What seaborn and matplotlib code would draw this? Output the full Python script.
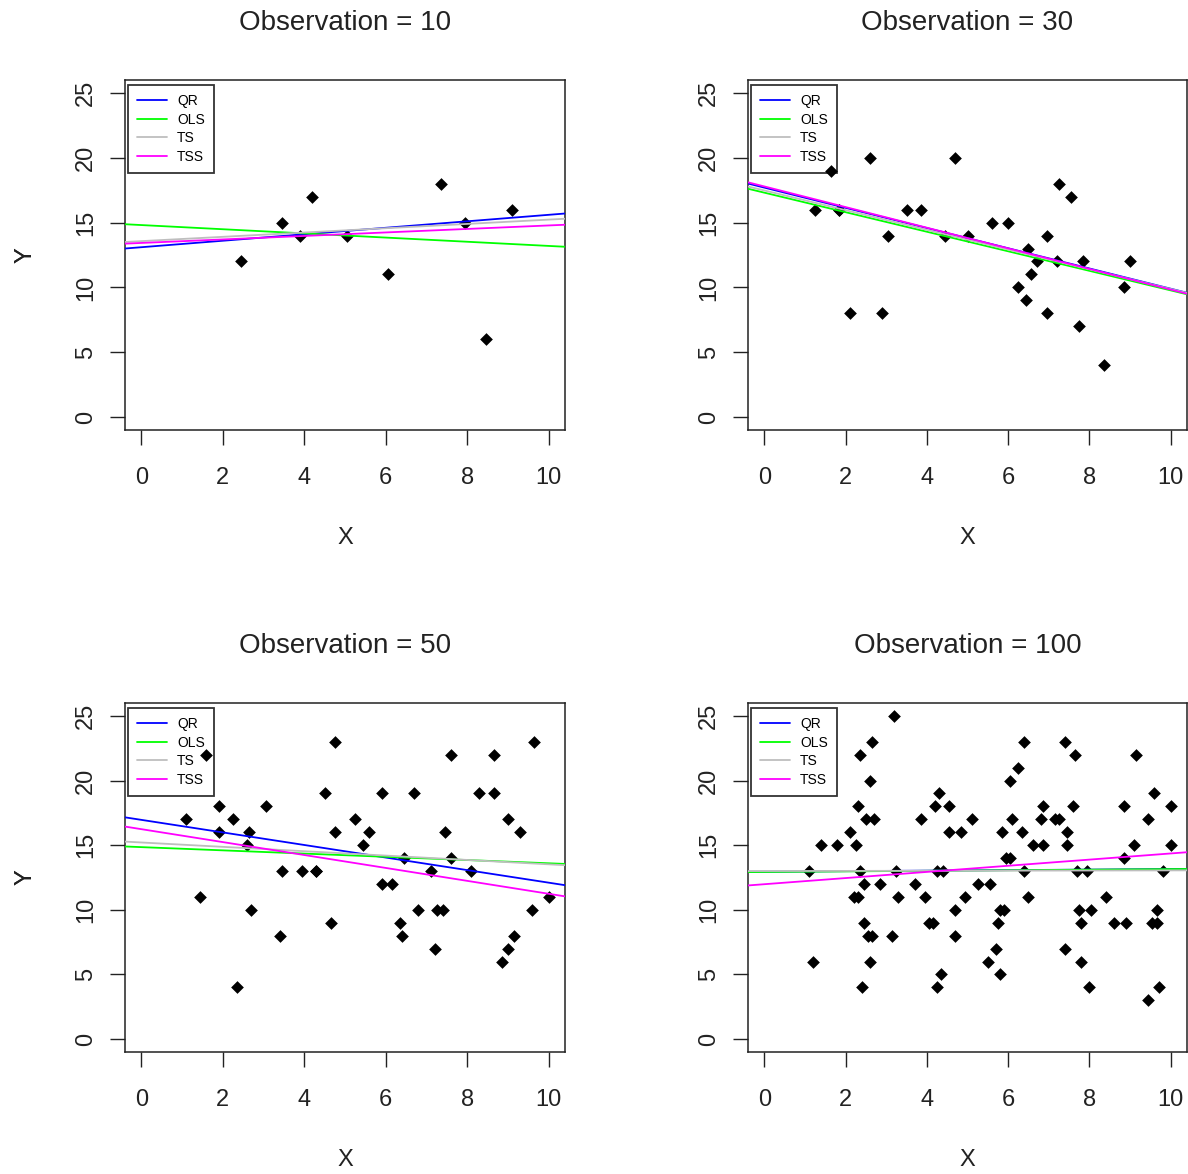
import matplotlib
matplotlib.use("Agg")
import matplotlib.pyplot as plt
import seaborn as sns

# observations per panel
n_obs = [10, 30, 50, 100]

# panel 1 (n = 10)
x10 = [2.45, 3.45, 3.9, 4.2, 5.05, 6.05, 7.35, 7.95, 8.45, 9.1]
y10 = [12, 15, 14, 17, 14, 11, 18, 15, 6, 16]

# panel 2 (n = 30)
x30 = [1.25, 1.65, 1.85, 1.85, 2.1, 2.6, 2.9, 3.05, 3.5, 3.85, 4.45, 4.7, 5.0, 5.6, 6.0,
       6.25, 6.45, 6.5, 6.55, 6.7, 6.95, 6.95, 7.2, 7.25, 7.55, 7.75, 7.85, 8.35, 8.85, 9.0]
y30 = [16, 19, 16, 16, 8, 20, 8, 14, 16, 16, 14, 20, 14, 15, 15,
       10, 9, 13, 11, 12, 14, 8, 12, 18, 17, 7, 12, 4, 10, 12]

# panel 3 (n = 50)
x50 = [1.1, 1.45, 1.6, 1.9, 1.9, 2.25, 2.35, 2.6, 2.65, 2.7, 3.05, 3.4, 3.45, 3.95, 4.3,
       4.5, 4.65, 4.75, 4.75, 5.25, 5.6, 5.45, 5.9, 5.9, 6.15, 6.45, 6.35, 6.4, 6.7, 6.8,
       7.1, 7.2, 7.25, 7.4, 7.45, 7.6, 7.6, 8.1, 8.3, 8.65, 8.65, 8.85, 9.0, 9.0, 9.15,
       9.3, 9.6, 9.65, 10.0, 4.3]
y50 = [17, 11, 22, 18, 16, 17, 4, 15, 16, 10, 18, 8, 13, 13, 13,
       19, 9, 23, 16, 17, 16, 15, 19, 12, 12, 14, 9, 8, 19, 10,
       13, 7, 10, 10, 16, 22, 14, 13, 19, 19, 22, 6, 17, 7, 8,
       16, 10, 23, 11, 13]

# panel 4 (n = 100)
x100 = [1.1, 1.2, 1.4, 1.8, 2.1, 2.25, 2.2, 2.3, 2.3, 2.35, 2.35, 2.4, 2.45, 2.45, 2.5,
        2.55, 2.65, 2.6, 2.6, 2.65, 2.7, 2.85, 3.15, 3.2, 3.25, 3.3, 3.7, 3.85, 3.95, 4.05,
        4.15, 4.2, 4.25, 4.3, 4.25, 4.4, 4.35, 4.55, 4.55, 4.7, 4.7, 4.85, 4.95, 5.1, 5.25,
        5.55, 5.5, 5.7, 5.75, 5.8, 5.9, 5.8, 5.85, 5.95, 6.05, 6.05, 6.1, 6.25, 6.35, 6.4,
        6.4, 6.5, 6.6, 6.8, 6.85, 6.85, 7.15, 7.25, 7.4, 7.4, 7.45, 7.45, 7.6, 7.65, 7.7,
        7.75, 7.8, 7.8, 7.95, 8.0, 8.05, 8.4, 8.6, 8.85, 8.85, 8.9, 9.1, 9.15, 9.45, 9.45,
        9.6, 9.55, 9.65, 9.65, 9.7, 9.8, 10.0, 10.0]
y100 = [13, 6, 15, 15, 16, 15, 11, 11, 18, 22, 13, 4, 12, 9, 17,
        8, 8, 6, 20, 23, 17, 12, 8, 25, 13, 11, 12, 17, 11, 9,
        9, 18, 4, 19, 13, 13, 5, 18, 16, 8, 10, 16, 11, 17, 12,
        12, 6, 7, 9, 10, 10, 5, 16, 14, 14, 20, 17, 21, 16, 23,
        13, 11, 15, 17, 15, 18, 17, 17, 23, 7, 16, 15, 18, 22, 13,
        10, 9, 6, 13, 4, 10, 11, 9, 18, 14, 9, 15, 22, 17, 3,
        19, 9, 9, 10, 4, 13, 18, 15]

xs = [x10, x30, x50, x100]
ys = [y10, y30, y50, y100]

# fitted lines (intercept, slope)
qr_fit = [(13.1, 0.25), (17.7, -0.78), (16.96, -0.486), (12.95, 0.02)]
ols_fit = [(14.81, -0.161), (17.31, -0.754), (14.85, -0.125), (12.93, 0.022)]
ts_fit = [(13.57, 0.166), (17.48, -0.76), (15.21, -0.169), (13.0, 0.005)]
tss_fit = [(13.43, 0.135), (17.79, -0.796), (16.24, -0.5), (11.98, 0.238)]

methods = ['QR', 'OLS', 'TS', 'TSS']
method_colors = ['#0000FF', '#00FF00', '#BEBEBE', '#FF00FF']
fits = [qr_fit, ols_fit, ts_fit, tss_fit]

sns.set_style('white')
plt.rcParams['font.family'] = ['Liberation Sans', 'DejaVu Sans']

fig = plt.figure(figsize=(11.88, 11.74), dpi=100)

W, H = 1188, 1174
# axes boxes in pixels: left, top, right, bottom
boxes = [(125, 80, 565, 430), (748, 80, 1187, 430),
         (125, 703, 565, 1052), (748, 703, 1187, 1052)]

for i, (l, t, r, b) in enumerate(boxes):
    ax = fig.add_axes([l / W, 1 - b / H, (r - l) / W, (b - t) / H])
    sns.scatterplot(x=xs[i], y=ys[i], ax=ax, marker='D', s=42, color='black',
                    linewidth=0, zorder=2)
    for m, col, fit in zip(methods, method_colors, fits):
        a, k = fit[i]
        ax.axline((0, a), slope=k, color=col, lw=1.3, label=m, zorder=3)

    ax.set_xlim(-0.4, 10.4)
    ax.set_ylim(-1, 26)
    ax.set_xticks(range(0, 11, 2))
    ax.set_yticks(range(0, 26, 5))
    ax.tick_params(axis='both', direction='out', length=11, width=1.0, colors='#222222',
                   labelsize=17, labelcolor='#222222', bottom=True, left=True)
    ax.tick_params(axis='x', pad=16)
    ax.tick_params(axis='y', pad=9, labelrotation=90)
    for lab in ax.get_yticklabels():
        lab.set_va('center')
    for sp in ax.spines.values():
        sp.set_color('#222222')
        sp.set_linewidth(1.1)

    # axis labels sit about 105 px outside the box
    ax.set_xlabel('X', fontsize=17, color='#222222')
    ax.set_ylabel('Y', fontsize=17, color='#222222')
    ax.xaxis.set_label_coords(0.5, -108 / (b - t))
    ax.xaxis.label.set_va('center')
    ax.yaxis.set_label_coords(-(l - 25) / (r - l), 0.5)
    ax.yaxis.label.set_va('center')

    ax.set_title('Observation = %d' % n_obs[i], fontsize=20, color='#222222', pad=36)

    # transparent legend box under the points, like the base-R legend
    leg = ax.legend(loc='upper left', bbox_to_anchor=(3 / (r - l), 1 - 5 / (b - t)),
                    borderaxespad=0, fontsize=10, frameon=True, fancybox=False,
                    edgecolor='black', facecolor='none', handlelength=2.16,
                    handletextpad=0.72, labelspacing=0.33, borderpad=0.65)
    leg.get_frame().set_linewidth(1.3)
    leg.set_zorder(1)
    for txt in leg.get_texts():
        txt.set_color('black')

fig.savefig('out.png', dpi=100)
